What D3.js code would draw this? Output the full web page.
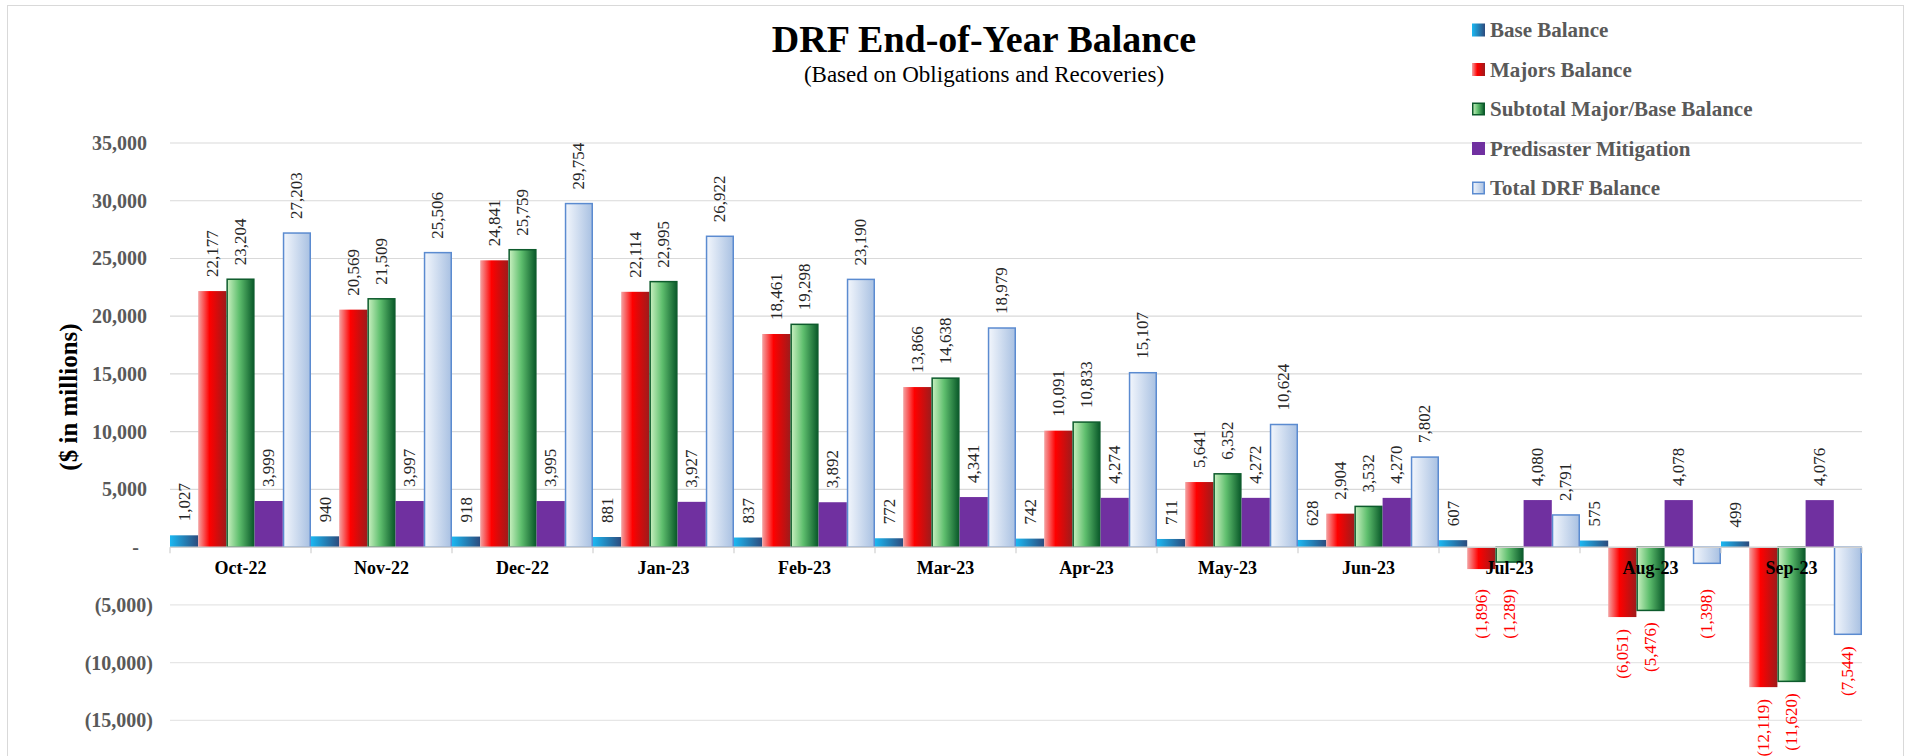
<!DOCTYPE html>
<html>
<head>
<meta charset="utf-8">
<script src="https://cdn.jsdelivr.net/npm/d3@7"></script>
<style>
  body { margin: 0; background: #fff; }
  svg { display: block; font-family: "Liberation Serif", "Times New Roman", serif; }
</style>
</head>
<body>
<div id="chart"></div>
<script>
// chart data
const months = ['Oct-22', 'Nov-22', 'Dec-22', 'Jan-23', 'Feb-23', 'Mar-23', 'Apr-23', 'May-23', 'Jun-23', 'Jul-23', 'Aug-23', 'Sep-23']
const seriesNames = ['Base Balance', 'Majors Balance', 'Subtotal Major/Base Balance', 'Predisaster Mitigation', 'Total DRF Balance']
const baseBalance = [1027, 940, 918, 881, 837, 772, 742, 711, 628, 607, 575, 499]
const majorsBalance = [22177, 20569, 24841, 22114, 18461, 13866, 10091, 5641, 2904, -1896, -6051, -12119]
const subtotalBalance = [23204, 21509, 25759, 22995, 19298, 14638, 10833, 6352, 3532, -1289, -5476, -11620]
const predisaster = [3999, 3997, 3995, 3927, 3892, 4341, 4274, 4272, 4270, 4080, 4078, 4076]
const totalBalance = [27203, 25506, 29754, 26922, 23190, 18979, 15107, 10624, 7802, 2791, -1398, -7544]
const yTicks = [-15000, -10000, -5000, 0, 5000, 10000, 15000, 20000, 25000, 30000, 35000]

const seriesValues = [baseBalance, majorsBalance, subtotalBalance, predisaster, totalBalance]

const width = 1911
const height = 756
const margin = { top: 143, right: 49, bottom: 36, left: 170 }

const svg = d3.select('#chart')
    .append('svg')
    .attr('width', width)
    .attr('height', height)

svg.append('rect')
    .attr('width', width)
    .attr('height', height)
    .attr('fill', '#fff')

// outer chart border
svg.append('rect')
    .attr('x', 7.5)
    .attr('y', 5.5)
    .attr('width', 1896)
    .attr('height', 760)
    .attr('fill', 'none')
    .attr('stroke', '#d9d9d9')

// gradients for the bar fills
const defs = svg.append('defs')
const gradients = [
    { id: 'gBase', stops: [[0, '#1bb8f2'], [1, '#2d4b7d']] },
    { id: 'gMajor', stops: [[0, '#f4a3a3'], [0.4, '#ff0000'], [1, '#9e1b1b']] },
    { id: 'gSub', stops: [[0, '#c9f0c0'], [0.45, '#5fbf6e'], [1, '#0a5a2a']] },
    { id: 'gPre', stops: [[0, '#7030a0'], [1, '#7030a0']] },
    { id: 'gTotal', stops: [[0, '#f2f6fc'], [1, '#a9c1e2']] }
]
gradients.forEach(g => {
    const lg = defs.append('linearGradient')
        .attr('id', g.id)
        .attr('x1', '0%').attr('x2', '100%')
        .attr('y1', '0%').attr('y2', '0%')
    g.stops.forEach(s => {
        lg.append('stop').attr('offset', s[0]).attr('stop-color', s[1])
    })
})
const fills = gradients.map(g => `url(#${g.id})`)
const strokes = ['none', 'none', '#0d5b2c', 'none', '#5b8bd0']

// scales
const x = d3.scaleBand()
    .domain(months)
    .range([margin.left, width - margin.right])
    .padding(0)

const xInner = d3.scaleBand()
    .domain(d3.range(seriesNames.length))
    .range([0, x.bandwidth()])
    .padding(0)

const y = d3.scaleLinear()
    .domain([-15000, 35000])
    .range([720.4, margin.top])

const fmt = d3.format(',')
const accounting = v => v < 0 ? `(${fmt(-v)})` : fmt(v)

// gridlines
svg.append('g')
    .selectAll('line')
    .data(yTicks.filter(d => d !== 0))
    .enter()
    .append('line')
        .attr('x1', margin.left)
        .attr('x2', width - margin.right)
        .attr('y1', d => y(d))
        .attr('y2', d => y(d))
        .attr('stroke', d => d < 0 ? '#e6e6e6' : '#d9d9d9')
        .attr('stroke-width', 1.2)

// y axis labels (accounting format)
const yAxis = d3.axisLeft(y)
    .tickValues(yTicks)
    .tickSize(0)
    .tickFormat(d => d === 0 ? '-' : accounting(d))

const yAxisG = svg.append('g')
    .attr('transform', `translate(${margin.left}, 0)`)
    .call(yAxis)
yAxisG.select('.domain').remove()
yAxisG.selectAll('text')
    .attr('x', d => d < 0 ? -17 : d === 0 ? -31 : -23)
    .attr('fill', '#595959')
    .style('font-family', '"Liberation Serif", serif')
    .style('font-weight', 'bold')
    .style('font-size', '20px')

// y axis title
svg.append('text')
    .attr('transform', 'translate(77, 397) rotate(-90)')
    .attr('text-anchor', 'middle')
    .style('font-weight', 'bold')
    .style('font-size', '25px')
    .attr('fill', '#000')
    .text('($ in millions)')

// bars
const groups = svg.append('g')
    .selectAll('g')
    .data(months)
    .enter()
    .append('g')
        .attr('transform', d => `translate(${x(d)}, 0)`)

const barData = (m, mi) => seriesValues.map((vals, si) => ({ si, value: vals[mi], month: m }))

groups.selectAll('rect')
    .data((m, mi) => barData(m, mi))
    .enter()
    .append('rect')
        .attr('x', d => xInner(d.si) + (strokes[d.si] === 'none' ? 0 : 0.75))
        .attr('y', d => y(Math.max(0, d.value)))
        .attr('width', d => xInner.bandwidth() - (strokes[d.si] === 'none' ? 0 : 1.5))
        .attr('height', d => Math.abs(y(d.value) - y(0)))
        .attr('fill', d => fills[d.si])
        .attr('stroke', d => strokes[d.si])
        .attr('stroke-width', 1.5)

// zero axis line with tick marks between categories
svg.append('line')
    .attr('x1', margin.left)
    .attr('x2', width - margin.right)
    .attr('y1', y(0))
    .attr('y2', y(0))
    .attr('stroke', '#d0d0d0')
    .attr('stroke-width', 1.5)

svg.append('g')
    .selectAll('line')
    .data(d3.range(months.length + 1))
    .enter()
    .append('line')
        .attr('x1', i => margin.left + i * x.bandwidth())
        .attr('x2', i => margin.left + i * x.bandwidth())
        .attr('y1', y(0))
        .attr('y2', y(0) + 6)
        .attr('stroke', '#d0d0d0')
        .attr('stroke-width', 1.2)

// category labels
svg.append('g')
    .selectAll('text')
    .data(months)
    .enter()
    .append('text')
        .attr('x', d => x(d) + x.bandwidth() / 2)
        .attr('y', y(0) + 27)
        .attr('text-anchor', 'middle')
        .style('font-weight', 'bold')
        .style('font-size', '18px')
        .attr('fill', '#000')
        .text(d => d)

// value labels, rotated
groups.selectAll('text')
    .data((m, mi) => barData(m, mi))
    .enter()
    .append('text')
        .attr('transform', d => {
            const cx = xInner(d.si) + xInner.bandwidth() / 2
            let ly
            if (d.value >= 0) ly = y(d.value) - 14
            else ly = Math.max(y(d.value) + 12, y(0) + 42)
            return `translate(${cx}, ${ly}) rotate(-90)`
        })
        .attr('text-anchor', d => d.value >= 0 ? 'start' : 'end')
        .attr('dominant-baseline', 'central')
        .style('font-size', '17px')
        .attr('fill', d => d.value < 0 ? '#ff0000' : '#262626')
        .text(d => accounting(d.value))

// title
svg.append('text')
    .attr('x', 984)
    .attr('y', 52)
    .attr('text-anchor', 'middle')
    .style('font-weight', 'bold')
    .style('font-size', '38px')
    .attr('fill', '#000')
    .text('DRF End-of-Year Balance')

svg.append('text')
    .attr('x', 984)
    .attr('y', 82)
    .attr('text-anchor', 'middle')
    .style('font-size', '23px')
    .attr('fill', '#000')
    .text('(Based on Obligations and Recoveries)')

// legend
const legend = svg.append('g')
    .selectAll('g')
    .data(seriesNames)
    .enter()
    .append('g')
        .attr('transform', (d, i) => `translate(1472, ${30 + i * 39.5})`)

legend.append('rect')
    .attr('x', (d, i) => strokes[i] === 'none' ? 0 : 0.75)
    .attr('y', (d, i) => -6.5 + (strokes[i] === 'none' ? 0 : 0.75))
    .attr('width', (d, i) => 13 - (strokes[i] === 'none' ? 0 : 1.5))
    .attr('height', (d, i) => 13 - (strokes[i] === 'none' ? 0 : 1.5))
    .attr('fill', (d, i) => fills[i])
    .attr('stroke', (d, i) => strokes[i])
    .attr('stroke-width', 1.5)

legend.append('text')
    .attr('x', 18)
    .attr('y', 0)
    .attr('dominant-baseline', 'central')
    .style('font-weight', 'bold')
    .style('font-size', '21px')
    .attr('fill', '#595959')
    .text(d => d)
</script>
</body>
</html>
